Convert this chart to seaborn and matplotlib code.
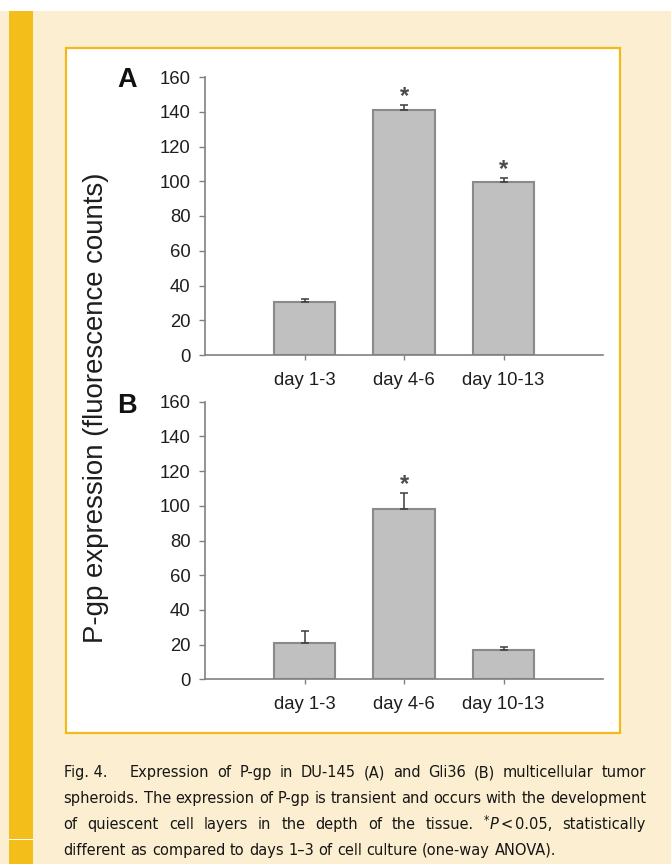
import numpy as np
import matplotlib
matplotlib.use("Agg")
import matplotlib.pyplot as plt
import matplotlib.font_manager as fm
from matplotlib.patches import Rectangle
import seaborn as sns

# ---------------- data ----------------
days = ["day 1-3", "day 4-6", "day 10-13"]
a_mean = [30.3, 140.8, 99.3]
a_err = [1.9, 2.9, 2.3]
a_sig = [False, True, True]
b_mean = [20.7, 98.2, 16.7]
b_err = [7.1, 9.0, 2.1]
b_sig = [False, True, False]
yticks = [0, 20, 40, 60, 80, 100, 120, 140, 160]
panel_labels = ["A", "B"]
ylabel = "P-gp expression (fluorescence counts)"
caption_words = [
    ["Fig. 4.", "Expression", "of", "P-gp", "in", "DU-145", "(A)", "and", "Gli36", "(B)",
     "multicellular", "tumor"],
    ["spheroids.", "The", "expression", "of", "P-gp", "is", "transient", "and", "occurs",
     "with", "the", "development"],
    ["of", "quiescent", "cell", "layers", "in", "the", "depth", "of", "the", "tissue.",
     "*P<0.05,", "statistically"],
    ["different", "as", "compared", "to", "days", "1\u20133", "of", "cell", "culture",
     "(one-way", "ANOVA)."],
]

# ---------------- style ----------------
W, H = 671, 864
cream = "#FCEED0"
yellow = "#F3BD1A"
panel_edge = "#F3B81C"
bar_face = "#C0C0C0"
bar_edge = "#8A8A8A"
axis_gray = "#808080"
text_col = "#1E1E1E"
cap_color = "#161616"

sns.set_theme(style="ticks")
plt.rcParams["font.family"] = ["Liberation Sans", "DejaVu Sans"]

fig = plt.figure(figsize=(W / 100, H / 100), dpi=100)
fig.patch.set_facecolor(cream)


def fx(x):
    return x / W


def fy(y):
    return 1 - y / H


# page decorations
fig.add_artist(Rectangle((0, fy(11)), 1, 11 / H, transform=fig.transFigure,
                         facecolor="white", edgecolor="none", zorder=-10))
fig.add_artist(Rectangle((fx(9), 0), 24 / W, fy(11), transform=fig.transFigure,
                         facecolor=yellow, edgecolor="none", zorder=-9))
fig.add_artist(Rectangle((fx(9), fy(840)), 24 / W, 1.2 / H, transform=fig.transFigure,
                         facecolor="white", edgecolor="none", zorder=-8))
fig.add_artist(Rectangle((fx(66), fy(733)), (620 - 66) / W, (733 - 47.5) / H,
                         transform=fig.transFigure, facecolor="white",
                         edgecolor=panel_edge, linewidth=1.6, zorder=-7))

# ---------------- axes ----------------
axA = fig.add_axes([fx(205), fy(355), (603 - 205) / W, (355 - 77) / H])
axB = fig.add_axes([fx(205), fy(679.3), (603 - 205) / W, (679.3 - 401.7) / H])

for ax, means, errs, sig in [(axA, a_mean, a_err, a_sig), (axB, b_mean, b_err, b_sig)]:
    ax.set_facecolor("white")
    sns.barplot(x=days, y=means, ax=ax, color=bar_face, saturation=1, width=0.62,
                edgecolor=bar_edge, linewidth=1.5, errorbar=None)
    pos = np.arange(len(days))
    ax.errorbar(pos, means, yerr=[np.zeros(len(means)), errs], fmt="none",
                ecolor="#3C3C3C", elinewidth=1.1, capsize=3.2, capthick=1.1, zorder=5)
    for i, s in enumerate(sig):
        if s:
            ax.text(pos[i], means[i] + errs[i] + 1.5, "*", ha="center", va="baseline",
                    fontsize=17, fontweight="bold", color="#4A4A4A")
    ax.set_xlim(-1, 3)
    ax.set_ylim(0, 160)
    ax.set_yticks(yticks)
    ax.set_xlabel("")
    ax.set_ylabel("")
    sns.despine(ax=ax)
    for sp in ["left", "bottom"]:
        ax.spines[sp].set_color(axis_gray)
        ax.spines[sp].set_linewidth(1.2)
    ax.tick_params(axis="y", direction="out", length=4.5, width=1, color=axis_gray,
                   pad=6, labelsize=13.3, labelcolor=text_col, left=True)
    ax.tick_params(axis="x", direction="out", length=3.5, width=1, color=axis_gray,
                   pad=8.5, labelsize=13.3, labelcolor=text_col, bottom=True)

fig.text(fx(127), fy(87), panel_labels[0], fontsize=19.5, fontweight="bold",
         ha="center", va="baseline", color="#111111")
fig.text(fx(126.5), fy(413), panel_labels[1], fontsize=19.5, fontweight="bold",
         ha="center", va="baseline", color="#111111")
fig.text(fx(103), fy(408), ylabel, rotation=90, rotation_mode="anchor",
         ha="center", va="baseline", fontsize=19.9, color=text_col)

# ---------------- caption (justified) ----------------
names = {f.name for f in fm.fontManager.ttflist}
cap_stretch = "normal"
if "Liberation Sans Narrow" in names:
    cap_family = "Liberation Sans Narrow"
elif any(f.name == "DejaVu Sans" and str(f.stretch) in ("condensed", "semi-condensed")
         for f in fm.fontManager.ttflist):
    cap_family = "DejaVu Sans"
    cap_stretch = "condensed"
else:
    cap_family = "Roboto"
cap_weight = "normal"

renderer = fig.canvas.get_renderer()
x_left, x_right = 63.5, 646.0
avail = x_right - x_left
baselines = [777.3, 803.1, 828.9, 854.7]
fig_gap_extra = 15.0


def make_word(word, size):
    if word.startswith("*P"):
        parts = [("*", size * 0.72, "normal", -5.0, 0.5),
                 ("P", size, "italic", 0.0, 1.5),
                 ("<", size, "normal", 0.0, 3.0),
                 (word[3:], size, "normal", 0.0, 0.0)]
    else:
        parts = [(word, size, "normal", 0.0, 0.0)]
    out = []
    for s, fs, st, dy, gap in parts:
        t = fig.text(0, 0, s, fontsize=fs, family=[cap_family, "DejaVu Sans"],
                     fontstretch=cap_stretch, fontweight=cap_weight, style=st,
                     color=cap_color, ha="left", va="baseline")
        w = t.get_window_extent(renderer).width
        out.append([t, dy, gap, w])
    return out


def word_width(parts):
    return sum(p[3] + p[2] for p in parts)


def build(size):
    lines = []
    for words in caption_words:
        lines.append([make_word(w, size) for w in words])
    return lines


def remove(lines):
    for ln in lines:
        for wd in ln:
            for p in wd:
                p[0].remove()


size = 13.4
min_gap = 4.0
for _ in range(3):
    lines = build(size)
    nat = []
    for li, ln in enumerate(lines):
        tot = sum(word_width(w) for w in ln) + min_gap * (len(ln) - 1)
        if li == 0:
            tot += fig_gap_extra
        nat.append(tot)
    worst = max(nat[:3])
    if worst <= avail:
        break
    remove(lines)
    size *= avail / worst * 0.995

space_px = 0.28 * size * 100 / 72
for li, ln in enumerate(lines):
    widths = [word_width(w) for w in ln]
    extra = fig_gap_extra if li == 0 else 0.0
    if li < len(lines) - 1:
        gap = (avail - sum(widths) - extra) / (len(ln) - 1)
    else:
        gap = space_px
    x = x_left
    for wi, wd in enumerate(ln):
        xx = x
        for t, dy, g, w in wd:
            t.set_position((fx(xx), fy(baselines[li] + dy)))
            xx += w + g
        x += widths[wi] + gap
        if li == 0 and wi == 0:
            x += extra

fig.savefig("out.png", dpi=100, facecolor=fig.get_facecolor())
